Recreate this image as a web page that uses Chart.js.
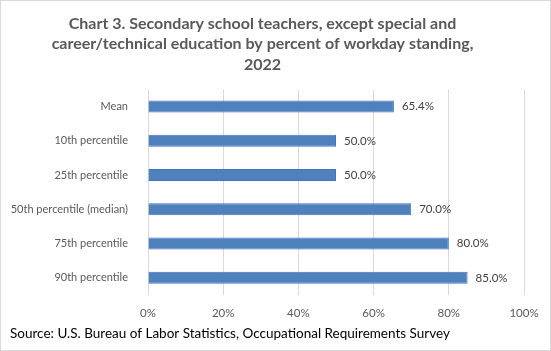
<!DOCTYPE html>
<html>
<head>
<meta charset="utf-8">
<script src="https://cdn.jsdelivr.net/npm/chart.js@4"></script>
<style>
  html, body { margin: 0; padding: 0; background: #fff; }
  .wrap { width: 549px; height: 349px; border: 1px solid #d9d9d9; position: relative; }
</style>
</head>
<body>
<div class="wrap"><canvas id="standingChart" width="549" height="349"></canvas></div>
<script>
const categories = ['Mean', '10th percentile', '25th percentile', '50th percentile (median)', '75th percentile', '90th percentile'];
const standingValues = [65.4, 50.0, 50.0, 70.0, 80.0, 85.0];
const xTicks = [0, 20, 40, 60, 80, 100];
const titleLines = ['Chart 3. Secondary school teachers, except special and', 'career/technical education by percent of workday standing,', '2022'];
const sourceText = 'Source: U.S. Bureau of Labor Statistics, Occupational Requirements Survey';

const fontFamily = 'Lato, "Open Sans", sans-serif';

// value labels next to each bar + source line
const labelPlugin = {
    id: 'labels',
    afterDatasetsDraw(chart) {
        const ctx = chart.ctx;
        const meta = chart.getDatasetMeta(0);
        ctx.save();
        ctx.font = '11.5px ' + fontFamily;
        ctx.fillStyle = '#404040';
        ctx.textBaseline = 'middle';
        meta.data.forEach((bar, i) => {
            ctx.fillText(standingValues[i].toFixed(1) + '%', bar.x + 8, bar.y);
        });
        ctx.restore();
    },
    afterDraw(chart) {
        const ctx = chart.ctx;
        ctx.save();
        ctx.font = '13.5px ' + fontFamily;
        ctx.fillStyle = '#000';
        ctx.textBaseline = 'middle';
        ctx.fillText(sourceText, 9, 333);
        ctx.restore();
    }
};

const ctx = document.getElementById('standingChart').getContext('2d');
new Chart(ctx, {
    type: 'bar',
    data: {
        labels: categories,
        datasets: [{
            data: standingValues,
            backgroundColor: '#4f81bd',
            borderColor: '#4472c4',
            borderWidth: 1,
            barPercentage: 0.35,
            categoryPercentage: 1
        }]
    },
    options: {
        indexAxis: 'y',
        responsive: false,
        animation: false,
        layout: { padding: { left: 0, right: 26, top: 0, bottom: 27 } },
        plugins: {
            legend: { display: false },
            tooltip: { enabled: false },
            title: {
                display: true,
                text: titleLines,
                color: '#595959',
                font: { family: fontFamily, size: 16, weight: 'bold', lineHeight: 1.3 },
                padding: { top: 12, bottom: 14 }
            }
        },
        scales: {
            x: {
                min: 0,
                max: 100,
                afterBuildTicks(scale) { scale.ticks = xTicks.map(v => ({ value: v })); },
                afterFit(scale) { scale.height = 28; },
                grid: { color: '#d9d9d9', drawTicks: false },
                border: { display: false },
                ticks: {
                    padding: 11,
                    color: '#595959',
                    font: { family: fontFamily, size: 11.5 },
                    callback: v => v + '%'
                }
            },
            y: {
                afterFit(scale) { scale.width = 147; },
                grid: { display: false },
                border: { display: false },
                ticks: {
                    padding: 12,
                    color: '#595959',
                    font: { family: fontFamily, size: 11 }
                }
            }
        }
    },
    plugins: [labelPlugin]
});
</script>
</body>
</html>
